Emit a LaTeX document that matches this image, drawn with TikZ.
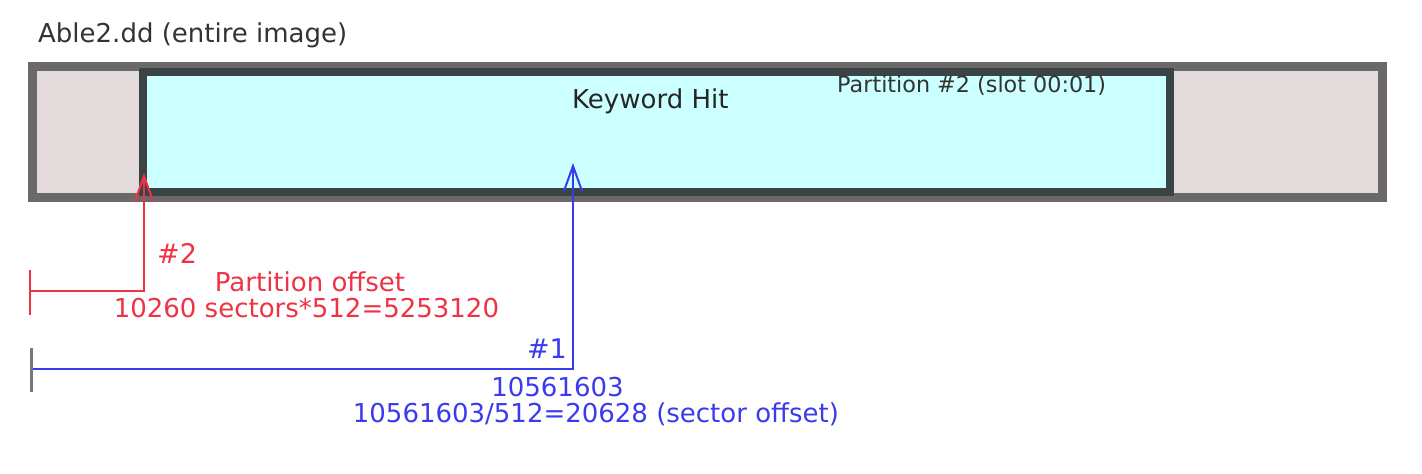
\documentclass[tikz,border=0pt]{standalone}
\usepackage{fontspec}
\setmainfont{DejaVu Sans}
\usetikzlibrary{arrows.meta,positioning}
\definecolor{diskfill}{HTML}{E3DBDB}
\definecolor{diskline}{HTML}{6A6868}
\definecolor{partfill}{HTML}{CCFFFF}
\definecolor{partline}{HTML}{3A4444}
\definecolor{offred}{HTML}{EE3344}
\definecolor{offblue}{HTML}{3A3AEE}
\definecolor{tickgray}{HTML}{777777}
\tikzset{>={Straight Barb[length=25pt,width=18pt,line width=2pt]}}
\tikzset{
  disk/.style={draw=diskline,fill=diskfill,line width=9pt,minimum width=1349.5pt,minimum height=131.5pt,inner sep=0pt},
  part/.style={draw=partline,fill=partfill,line width=8.5pt,minimum width=1027pt,minimum height=120pt,inner sep=0pt},
  lbl/.style={inner sep=0pt,font=\fontsize{26}{30}\selectfont},
  small/.style={inner sep=0pt,font=\fontsize{22.3}{26}\selectfont}
}

\begin{document}
\begin{tikzpicture}[x=1pt,y=-1pt]
      \useasboundingbox (0,0) rectangle (1422,474);
      \node[disk] (disk) at (707.25,131.75) {};
      \node[part] (part) at (656.5,132) {};
      \node[lbl,text=black!80,anchor=base west] (title) at (38,42) {Able2.dd (entire image)};
      \node[lbl,text=black!85,anchor=base west] (hit) at (572,108) {Keyword Hit};
      \node[small,text=black!80,anchor=base west] (slot) at (837,92) {Partition \#2 (slot 00:01)};
      % red: partition offset
      \coordinate (r0) at (30,291);
      \coordinate (r1) at (144,291);
      \coordinate (rtip) at (144,173);
      \draw[offred,line width=2pt] (30,270)--(30,315);
      \draw[offred,line width=2pt,->] (r0)--(r1)--(rtip);
      \node[lbl,text=offred,anchor=base west,font=\fontsize{27}{30}\selectfont] (n2) at (157,263) {\#2};
      \node[lbl,text=offred,anchor=base] (poff) at (310,291) {Partition offset};
      \node[lbl,text=offred,anchor=base] (psec) at (306.5,317) {10260 sectors*512=5253120};
      % blue: keyword offset
      \coordinate (b0) at (31,369);
      \coordinate (b1) at (573,369);
      \coordinate (btip) at (573,163);
      \draw[offblue,line width=2pt,->] (b0)--(b1)--(btip);
      \draw[tickgray,line width=3pt] (31,348)--(31,392);
      \node[lbl,text=offblue,anchor=base east,font=\fontsize{27}{30}\selectfont] (n1) at (567,358) {\#1};
      \node[lbl,text=offblue,anchor=base] (kbyte) at (557.5,396) {10561603};
      \node[lbl,text=offblue,anchor=base] (ksec) at (596,422) {10561603/512=20628 (sector offset)};
    \end{tikzpicture}
\end{document}
